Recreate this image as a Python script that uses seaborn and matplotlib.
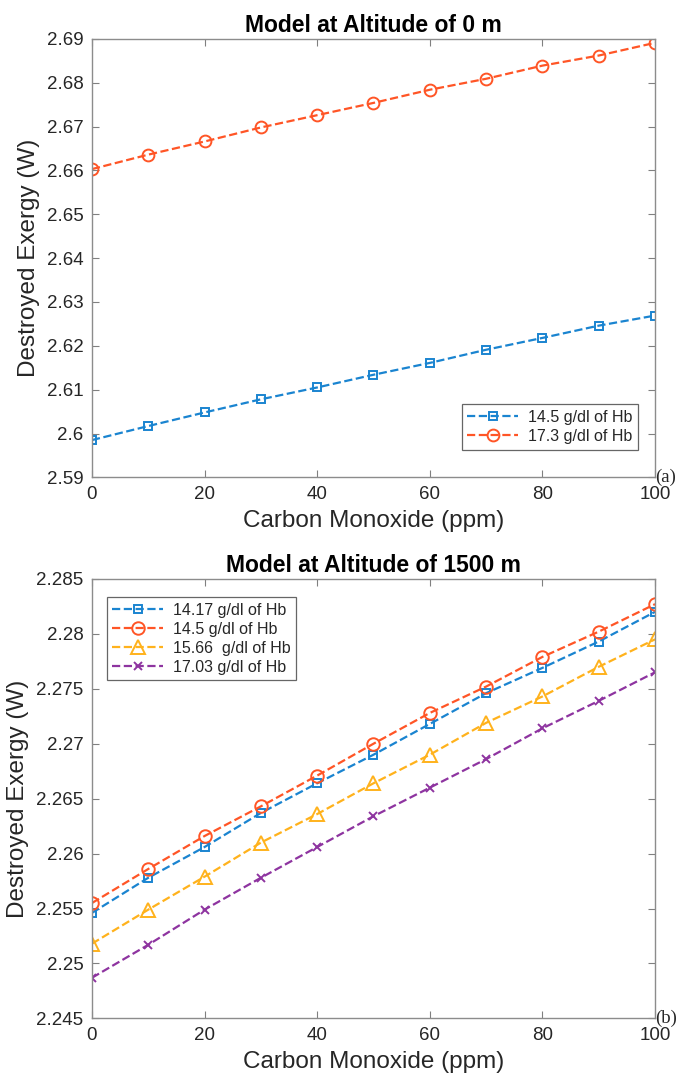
import numpy as np
import pandas as pd
import matplotlib
matplotlib.use("Agg")
import matplotlib.pyplot as plt
import seaborn as sns

# Data
co_ppm = [0, 10, 20, 30, 40, 50, 60, 70, 80, 90, 100]

# Altitude 0 m
sea_14_5 = [2.5985, 2.6017, 2.6048, 2.6078, 2.6105, 2.6134, 2.6161, 2.6191, 2.6218, 2.6246, 2.6269]
sea_17_3 = [2.6603, 2.6636, 2.6666, 2.6698, 2.6726, 2.6754, 2.6784, 2.6809, 2.6839, 2.6862, 2.6891]

# Altitude 1500 m
alt_14_17 = [2.2546, 2.2578, 2.2606, 2.2637, 2.2664, 2.2690, 2.2718, 2.2746, 2.2769, 2.2793, 2.2820]
alt_14_5 = [2.2555, 2.2586, 2.2616, 2.2643, 2.2671, 2.2700, 2.2728, 2.2752, 2.2779, 2.2802, 2.2827]
alt_15_66 = [2.2518, 2.2549, 2.2579, 2.2610, 2.2636, 2.2664, 2.2690, 2.2719, 2.2743, 2.2770, 2.2795]
alt_17_03 = [2.2487, 2.2517, 2.2549, 2.2578, 2.2606, 2.2634, 2.2660, 2.2686, 2.2714, 2.2739, 2.2765]

blue, orange, yellow, purple = "#1a84d0", "#ff5526", "#ffb21c", "#8e34a0"

sns.set_style("white")
plt.rcParams["font.family"] = ["Liberation Sans", "DejaVu Sans"]

fig = plt.figure(figsize=(6.76, 10.8), dpi=100)
ax1 = fig.add_axes([0.136, 0.558, 0.833, 0.406])
ax2 = fig.add_axes([0.136, 0.057, 0.833, 0.407])


def draw(ax, y, label, color, marker, ms):
    sns.lineplot(x=co_ppm, y=y, ax=ax, color=color, linestyle="--", linewidth=1.6,
                 marker=marker, markersize=ms, markerfacecolor="none",
                 markeredgecolor=color, markeredgewidth=1.4, label=label)


draw(ax1, sea_14_5, "14.5 g/dl of Hb", blue, "s", 6)
draw(ax1, sea_17_3, "17.3 g/dl of Hb", orange, "o", 8.5)

draw(ax2, alt_14_17, "14.17 g/dl of Hb", blue, "s", 6)
draw(ax2, alt_14_5, "14.5 g/dl of Hb", orange, "o", 9)
draw(ax2, alt_15_66, "15.66  g/dl of Hb", yellow, "^", 10)
draw(ax2, alt_17_03, "17.03 g/dl of Hb", purple, "x", 6)

ax1.set_ylim(2.59, 2.69)
ax1.set_yticks(np.arange(2.59, 2.6901, 0.01))
ax1.set_yticklabels(["2.59", "2.6", "2.61", "2.62", "2.63", "2.64", "2.65", "2.66", "2.67", "2.68", "2.69"])
ax2.set_ylim(2.245, 2.285)
ax2.set_yticks(np.arange(2.245, 2.28501, 0.005))
ax2.set_yticklabels(["2.245", "2.25", "2.255", "2.26", "2.265", "2.27", "2.275", "2.28", "2.285"])

for ax, title, tag in [(ax1, "Model at Altitude of 0 m", "(a)"),
                       (ax2, "Model at Altitude of 1500 m", "(b)")]:
    ax.set_xlim(0, 100)
    ax.set_xticks(range(0, 101, 20))
    ax.set_title(title, fontsize=16.5, fontweight="bold", pad=5, color="black")
    ax.set_xlabel("Carbon Monoxide (ppm)", fontsize=17.5, color="#262626", labelpad=5)
    ax.set_ylabel("Destroyed Exergy (W)", fontsize=17.5, color="#262626", labelpad=5)
    ax.tick_params(direction="in", length=5, width=0.8, color="#808080",
                   labelsize=13.5, labelcolor="#262626", top=True, right=True,
                   left=True, bottom=True, pad=6)
    for s in ax.spines.values():
        s.set_color("#8c8c8c")
        s.set_linewidth(1.0)
    ax.text(1.0, 0.0, tag, transform=ax.transAxes, ha="left", va="center",
            fontsize=13.5, family="Liberation Serif")

ax1.legend(loc="lower right", bbox_to_anchor=(0.984, 0.045), fontsize=11.5,
           frameon=True, fancybox=False, edgecolor="#404040", handlelength=3.2,
           borderpad=0.35, labelspacing=0.25, handletextpad=0.6)
ax2.legend(loc="upper left", bbox_to_anchor=(0.012, 0.977), fontsize=11.5,
           frameon=True, fancybox=False, edgecolor="#404040", handlelength=3.2,
           borderpad=0.35, labelspacing=0.25, handletextpad=0.6)
for leg in (ax1.get_legend(), ax2.get_legend()):
    leg.get_frame().set_linewidth(0.9)

fig.savefig("out.png", dpi=100)
